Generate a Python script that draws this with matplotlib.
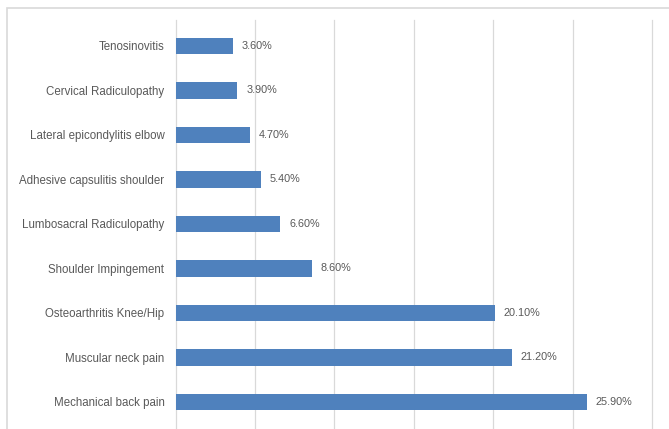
import matplotlib
matplotlib.use("Agg")
import matplotlib.pyplot as plt
from matplotlib.patches import Rectangle

conditions = ["Mechanical back pain", "Muscular neck pain", "Osteoarthritis Knee/Hip",
              "Shoulder Impingement", "Lumbosacral Radiculopathy", "Adhesive capsulitis shoulder",
              "Lateral epicondylitis elbow", "Cervical Radiculopathy", "Tenosinovitis"]
percents = [25.9, 21.2, 20.1, 8.6, 6.6, 5.4, 4.7, 3.9, 3.6]
value_labels = ["25.90%", "21.20%", "20.10%", "8.60%", "6.60%", "5.40%", "4.70%", "3.90%", "3.60%"]

plt.rcParams['font.family'] = ['Liberation Sans', 'DejaVu Sans']
text_color = "#595959"

fig = plt.figure(figsize=(6.69, 4.29), dpi=100)
# light chart-area border
fig.patches.append(Rectangle((7 / 669, -0.1), 1.0, 1 - 8 / 429 + 0.1, transform=fig.transFigure,
                             fill=False, edgecolor="#D9D9D9", linewidth=1.2))

ax = fig.add_axes([175.5 / 669, 0.0, (652 - 175.5) / 669, 1 - 20 / 429])
y = range(len(conditions))
ax.barh(y, percents, height=0.37, color="#4F81BD", zorder=3)

for i, (v, lab) in enumerate(zip(percents, value_labels)):
    ax.text(v + 0.55, i, lab, va="center", ha="left", fontsize=7.8, color=text_color)

ax.set_xlim(0, 30)
ax.set_ylim(-0.61, 8.58)
ax.set_xticks([0, 5, 10, 15, 20, 25, 30])
ax.set_xticklabels([])
ax.tick_params(axis="x", length=0)
ax.set_yticks(list(y))
ax.set_yticklabels(conditions, fontsize=8.3, color=text_color)
ax.tick_params(axis="y", length=0, pad=8)
ax.grid(axis="x", color="#D9D9D9", linewidth=0.9, zorder=0)
for gl in ax.get_xgridlines():
    gl.set_clip_on(False)
for s in ax.spines.values():
    s.set_visible(False)

fig.savefig("out.png", dpi=100)
